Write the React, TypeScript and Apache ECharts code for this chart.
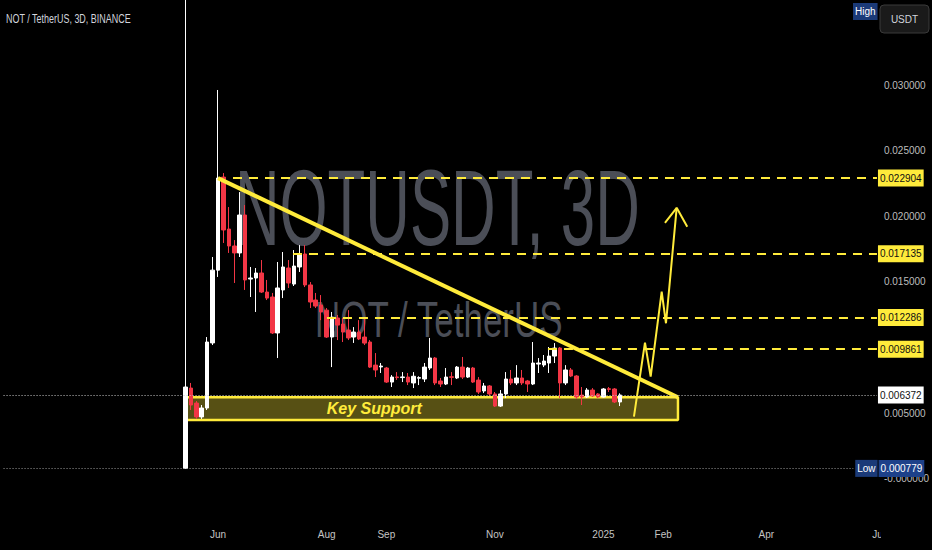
import React, { useEffect, useRef } from 'react';
import * as echarts from 'echarts';

// ---- data ----
const firstCandleDate = '2024-05-14';
const stepDays = 3;
const leadingSlots = 33;
const totalSlots = 171;

const opens = [
  0.00078, 0.0069, 0.00576, 0.0047, 0.00538, 0.01034, 0.01589, 0.02298, 0.01902, 0.01773,
  0.0172, 0.02009, 0.01521, 0.01529, 0.01567, 0.01422, 0.01384, 0.0111, 0.01438, 0.01605,
  0.01483, 0.01613, 0.01712, 0.01476, 0.01361, 0.01323, 0.01284, 0.01079, 0.01224, 0.01178,
  0.01132, 0.01079, 0.01117, 0.01079, 0.01041, 0.00865, 0.00851, 0.00843, 0.00736, 0.00775,
  0.0077, 0.00774, 0.00729, 0.00765, 0.00759, 0.00843, 0.00919, 0.00744, 0.00721, 0.00776,
  0.00767, 0.0085, 0.00774, 0.00843, 0.00751, 0.00668, 0.00706, 0.00645, 0.00553, 0.00645,
  0.00759, 0.00729, 0.00767, 0.00744, 0.00721, 0.00873, 0.00866, 0.00881, 0.00934, 0.00995,
  0.00729, 0.00828, 0.00782, 0.00637, 0.00622, 0.00675, 0.00645, 0.00622, 0.00685, 0.00683,
  0.00584,
];
const closes = [
  0.00698, 0.00561, 0.0047, 0.00538, 0.01041, 0.01589, 0.02291, 0.01895, 0.01773, 0.0172,
  0.02009, 0.01514, 0.01529, 0.01567, 0.01422, 0.01376, 0.0111, 0.01453, 0.01613, 0.01491,
  0.0162, 0.01712, 0.01476, 0.01346, 0.01315, 0.0127, 0.01079, 0.01231, 0.0117, 0.01117,
  0.01072, 0.01117, 0.01064, 0.01033, 0.0085, 0.00828, 0.00858, 0.00736, 0.00774, 0.0077,
  0.00775, 0.00736, 0.0078, 0.0077, 0.0085, 0.00919, 0.00729, 0.00721, 0.00774, 0.00772,
  0.0085, 0.00774, 0.00843, 0.00736, 0.0066, 0.00706, 0.00645, 0.00553, 0.00645, 0.00759,
  0.00729, 0.00767, 0.00729, 0.00721, 0.00881, 0.00881, 0.00896, 0.00934, 0.00995, 0.00729,
  0.00828, 0.00782, 0.00622, 0.00622, 0.00675, 0.0063, 0.00622, 0.00683, 0.0068, 0.00584,
  0.006372,
];
const lows = [
  0.000779, 0.00523, 0.00455, 0.00455, 0.00523, 0.01018, 0.01537, 0.01796, 0.0172, 0.01491,
  0.01689, 0.01438, 0.01384, 0.0127, 0.01415, 0.01361, 0.01102, 0.00919, 0.01376, 0.01453,
  0.01468, 0.01575, 0.0146, 0.013, 0.013, 0.01208, 0.01072, 0.0085, 0.01056, 0.01041,
  0.01056, 0.01034, 0.01056, 0.01018, 0.00843, 0.00774, 0.00805, 0.00729, 0.00698, 0.00752,
  0.00736, 0.00713, 0.0069, 0.00713, 0.00736, 0.00828, 0.00713, 0.00698, 0.00713, 0.00713,
  0.00759, 0.00759, 0.00767, 0.00729, 0.00645, 0.00652, 0.0063, 0.00546, 0.00546, 0.00614,
  0.00713, 0.00713, 0.00713, 0.0066, 0.00713, 0.00805, 0.0085, 0.00805, 0.00881, 0.00614,
  0.00713, 0.00774, 0.00607, 0.00561, 0.00614, 0.00622, 0.00614, 0.00618, 0.0066, 0.00576,
  0.00553,
];
const highs = [
  0.045, 0.00729, 0.00591, 0.00561, 0.01079, 0.01689, 0.02962, 0.02329, 0.0207, 0.01818,
  0.02184, 0.02085, 0.01613, 0.01605, 0.01666, 0.01514, 0.01415, 0.01651, 0.01727, 0.01666,
  0.01742, 0.0178, 0.0178, 0.01498, 0.01415, 0.01399, 0.013, 0.0127, 0.01247, 0.01224,
  0.01284, 0.01155, 0.01208, 0.01224, 0.01056, 0.00957, 0.00881, 0.00851, 0.00789, 0.00812,
  0.00812, 0.00805, 0.00812, 0.0078, 0.00881, 0.01072, 0.00927, 0.00767, 0.00843, 0.00812,
  0.00858, 0.00927, 0.00851, 0.00851, 0.00774, 0.00729, 0.00713, 0.0066, 0.00675, 0.00812,
  0.00828, 0.00865, 0.00828, 0.00752, 0.01041, 0.00919, 0.00942, 0.01003, 0.01033, 0.01003,
  0.00865, 0.00843, 0.00789, 0.00698, 0.0069, 0.0069, 0.00652, 0.0069, 0.00698, 0.0069,
  0.0065,
];

const monthTicks: [string, string][] = [
  ['2024-06-01', 'Jun'], ['2024-08-01', 'Aug'], ['2024-09-01', 'Sep'], ['2024-11-01', 'Nov'],
  ['2025-01-01', '2025'], ['2025-02-01', 'Feb'], ['2025-04-01', 'Apr'], ['2025-06-01', 'Jun'],
];
const priceTickLabels = [0.03, 0.025, 0.02, 0.015, 0.005];
const priceMin = -0.003155;
const priceMax = 0.036479;

// horizontal levels (price, start position in candle units)
const levelPrices = [0.022904, 0.017135, 0.012286, 0.009861];
const levelStarts = [8.76, 19.81, 26.07, 66.77];
const lastPrice = 0.006372;
const lowPrice = 0.000779;

// drawing annotations in (candle index, price)
const trendLine = [[6.0, 0.0229], [90.72, 0.0062]];
const supportBox = { x0: 0.23, x1: 90.72, top: 0.0062, bottom: 0.00447 };
const arrowPath = [[82.61, 0.00473], [84.64, 0.01037], [85.69, 0.00778], [87.72, 0.01426], [88.51, 0.01184], [90.48, 0.02064]];
const arrowHead = [[88.32, 0.0195], [90.48, 0.02064], [92.43, 0.0192]];
const rightEdge = 127.37;
const lowLineEnd = 123.0;
const leftEdge = -33.5;

const Y = '#ffeb3b';
const RED = '#f23645';
const FONT = '"Liberation Sans", sans-serif';

export default function App() {
  const ref = useRef<HTMLDivElement>(null);
  useEffect(() => {
    if (!ref.current) return;
    const chart = echarts.init(ref.current, undefined, { renderer: 'svg' });
    const dayMs = 86400000;
    const start = Date.parse(firstCandleDate + 'T00:00:00Z');
    const categories = Array.from({ length: totalSlots }, (_, k) =>
      new Date(start + (k - leadingSlots) * stepDays * dayMs).toISOString().slice(0, 10));
    const tickMap = new Map<number, string>();
    monthTicks.forEach(([d, lab]) => {
      const idx = Math.round((Date.parse(d + 'T00:00:00Z') - start) / (stepDays * dayMs)) + leadingSlots;
      tickMap.set(idx, lab);
    });
    const candles = opens.map((o, i) => [categories[i + leadingSlots], o, closes[i], lows[i], highs[i]]);

    const boxLabel = (p: number, bg: string) => ({
      show: true, position: 'end', distance: 1, formatter: p.toFixed(6),
      backgroundColor: bg, color: '#111', padding: [4, 2, 3, 2], fontSize: 10, fontFamily: FONT,
    });

    const option: any = {
      animation: false,
      backgroundColor: '#000000',
      grid: { left: 3.56, top: 0, right: 0, height: 520 },
      xAxis: [
        {
          type: 'category', data: categories, boundaryGap: true,
          axisLine: { show: false }, axisTick: { show: false }, splitLine: { show: false },
          axisLabel: {
            interval: (i: number) => tickMap.has(i),
            formatter: (_v: string, i: number) => tickMap.get(i) ?? '',
            color: '#c4c4c4', fontSize: 10, margin: 9, fontFamily: FONT,
          },
        },
        {
          type: 'value', min: -leadingSlots - 0.5, max: totalSlots - leadingSlots - 0.5, show: false,
        },
      ],
      yAxis: [
        {
          type: 'value', min: priceMin, max: priceMax, splitNumber: 8, position: 'right', offset: -50,
          axisLine: { show: false }, axisTick: { show: false }, splitLine: { show: false },
          axisLabel: {
            margin: 2, color: '#bdbdbd', fontSize: 10, fontFamily: FONT, align: 'left',
            formatter: (v: number) => {
              if (Math.abs(v) < 1e-9) return '-0.000000';
              return priceTickLabels.some((t) => Math.abs(t - v) < 1e-9) ? v.toFixed(6) : '';
            },
          },
        },
      ],
      series: [
        {
          type: 'line', xAxisIndex: 1, yAxisIndex: 0, z: 1, symbol: 'none', silent: true,
          data: [[supportBox.x0, supportBox.top], [supportBox.x1, supportBox.top], [supportBox.x1, supportBox.bottom],
            [supportBox.x0, supportBox.bottom], [supportBox.x0, supportBox.top]],
          lineStyle: { color: Y, width: 2.5 },
          markArea: {
            silent: true,
            itemStyle: { color: 'rgba(255,235,59,0.34)' },
            label: {
              show: true, position: [140, 11.5], align: 'left', verticalAlign: 'middle',
              color: Y, fontSize: 16, fontWeight: 'bold', fontStyle: 'italic', fontFamily: FONT,
            },
            data: [[{ name: 'Key Support', coord: [supportBox.x0, supportBox.top] }, { coord: [supportBox.x1, supportBox.bottom] }]],
          },
        },
        {
          type: 'candlestick', xAxisIndex: 0, yAxisIndex: 0, z: 2, barWidth: 4,
          encode: { x: 0, y: [1, 2, 3, 4] },
          data: candles,
          itemStyle: { color: '#ffffff', color0: RED, borderColor: '#ffffff', borderColor0: RED, borderWidth: 1 },
        },
        {
          type: 'line', xAxisIndex: 1, yAxisIndex: 0, z: 4, symbol: 'none', silent: true,
          data: trendLine,
          lineStyle: { color: Y, width: 4 },
          markLine: {
            silent: true, symbol: ['none', 'none'],
            data: [
              ...levelPrices.map((p, i) => [
                { coord: [levelStarts[i], p], lineStyle: { type: [9, 7], color: Y, width: 2 }, label: boxLabel(p, Y) },
                { coord: [rightEdge, p] },
              ]),
              [
                { coord: [leftEdge, lastPrice], lineStyle: { type: [1, 2], color: '#c8c8c8', width: 1 }, label: boxLabel(lastPrice, '#ffffff') },
                { coord: [rightEdge, lastPrice] },
              ],
              [
                {
                  coord: [leftEdge, lowPrice], lineStyle: { type: [1, 2], color: '#9a9a9a', width: 1 },
                  label: {
                    show: true, position: 'end', distance: 2,
                    formatter: '{a|Low}{s| }{b|' + lowPrice.toFixed(6) + '}',
                    rich: {
                      a: { backgroundColor: '#1b3a78', color: '#ffffff', padding: [4, 2, 3, 2], fontSize: 10, fontFamily: FONT },
                      s: { fontSize: 2, width: 1 },
                      b: { backgroundColor: '#1d418a', color: '#ffffff', padding: [4, 2, 3, 2], fontSize: 10, fontFamily: FONT },
                    },
                  },
                },
                { coord: [lowLineEnd, lowPrice] },
              ],
            ],
          },
        },
        {
          type: 'line', xAxisIndex: 1, yAxisIndex: 0, z: 4, symbol: 'none', silent: true,
          data: arrowPath, lineStyle: { color: Y, width: 2 },
        },
        {
          type: 'line', xAxisIndex: 1, yAxisIndex: 0, z: 4, symbol: 'none', silent: true,
          data: arrowHead, lineStyle: { color: Y, width: 2 },
        },
      ],
      graphic: [
        {
          type: 'text', x: 235, y: 208, scaleX: 0.577, z: 0, silent: true,
          style: {
            text: 'NOTUSDT, 3D', fill: '#4b4e57', font: '107px ' + FONT,
            align: 'left', textAlign: 'left', verticalAlign: 'middle', textVerticalAlign: 'middle',
          },
        },
        {
          type: 'text', x: 315, y: 320, scaleX: 0.7, z: 0, silent: true,
          style: {
            text: 'NOT / TetherUS', fill: '#4b4e57', font: '50px ' + FONT,
            align: 'left', textAlign: 'left', verticalAlign: 'middle', textVerticalAlign: 'middle',
          },
        },
        {
          type: 'text', x: 6, y: 18, scaleX: 0.69, z: 100, silent: true,
          style: {
            text: 'NOT / TetherUS, 3D, BINANCE', fill: '#d1d4dc', font: '13px ' + FONT,
            align: 'left', textAlign: 'left', verticalAlign: 'middle', textVerticalAlign: 'middle',
          },
        },
        { type: 'rect', z: 100, silent: true, shape: { x: 881, y: 495, width: 51, height: 55 }, style: { fill: '#000000' } },
        {
          type: 'text', x: 853, y: 11.5, z: 100, silent: true,
          style: {
            text: 'High', fill: '#ffffff', font: '10px ' + FONT, backgroundColor: '#1b3a78', padding: [4, 2, 3, 2],
            align: 'left', textAlign: 'left', verticalAlign: 'middle', textVerticalAlign: 'middle',
          },
        },
        {
          type: 'rect', z: 100, silent: true, shape: { x: 880, y: 5, width: 49, height: 28, r: 4 },
          style: { fill: '#1a1a1a', stroke: '#3a3a3a', lineWidth: 1 },
        },
        {
          type: 'text', x: 904.5, y: 19, z: 101, silent: true,
          style: {
            text: 'USDT', fill: '#d1d4dc', font: '10px ' + FONT,
            align: 'center', textAlign: 'center', verticalAlign: 'middle', textVerticalAlign: 'middle',
          },
        },
      ],
    };
    chart.setOption(option);
    return () => chart.dispose();
  }, []);
  return (
    <div
      ref={ref}
      style={{ position: 'absolute', left: 0, top: 0, width: 932, height: 550, background: '#000' }}
    />
  );
}
